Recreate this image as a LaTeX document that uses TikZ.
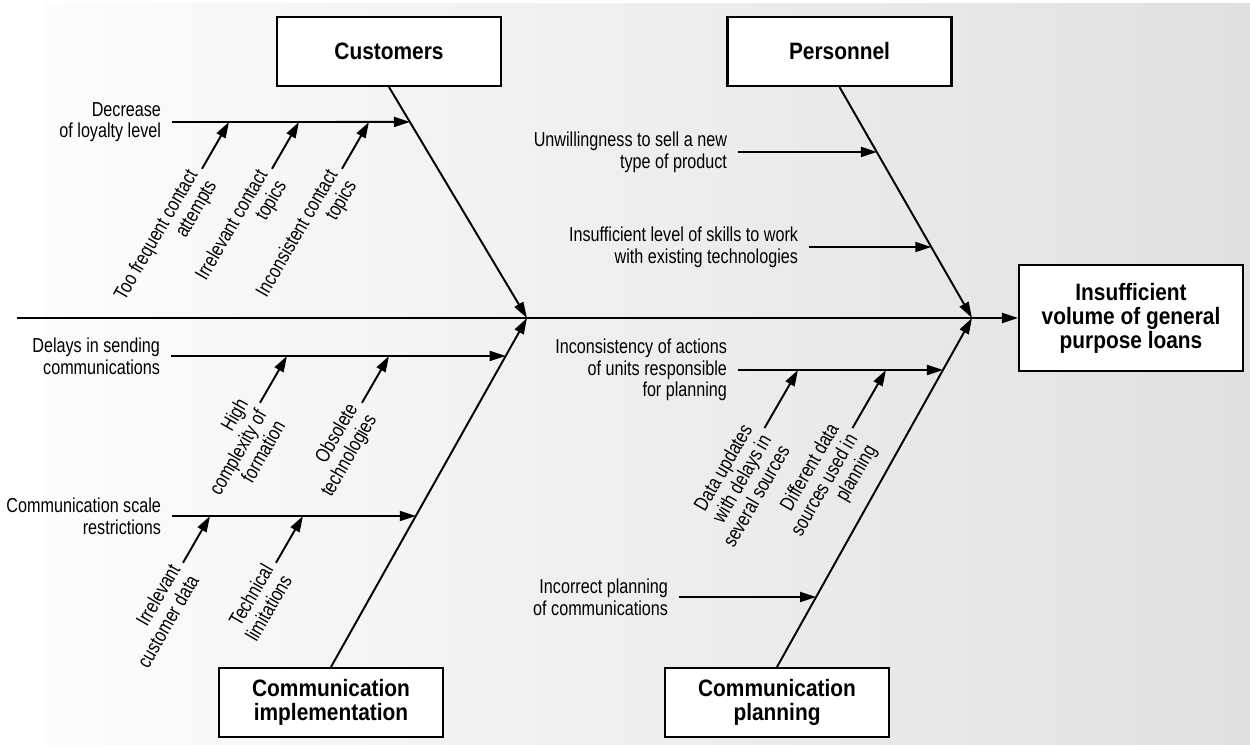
\documentclass[tikz,border=0pt]{standalone}
\usepackage{fontspec}
\setmainfont{Liberation Sans}[FakeStretch=0.8]
\newfontfamily\boxfont{Liberation Sans}[FakeStretch=0.88]
\usetikzlibrary{arrows.meta,calc}

\definecolor{panelL}{RGB}{252,252,252}
\definecolor{panelR}{RGB}{224,224,224}

\begin{document}
\begin{tikzpicture}[
    category/.style={rectangle, draw, line width=1.2pt, fill=white, minimum width=4.48cm, minimum height=1.38cm, align=center, font=\boxfont\bfseries\fontsize{13.5}{13.6}\selectfont},
    effect/.style={category, minimum height=2.12cm},
    cause/.style={align=right, inner sep=0pt, outer xsep=0.22cm, font=\fontsize{11.5}{12.3}\selectfont},
    subcause/.style={cause, outer sep=0pt, rotate=60, anchor=east},
    bone/.style={-{Triangle[length=0.32cm, width=0.2cm]}, line width=1.1pt}
]
\useasboundingbox (0,0) rectangle (25,14.88);

% Background panel
\shade[left color=panelL, right color=panelR] (0.9,0) rectangle (25,14.8);

% Spine and head
\coordinate (tail) at (0.34,8.52);
\coordinate (j1) at (10.54,8.52);
\coordinate (j2) at (19.44,8.52);
\node[effect] (effect) at (22.62,8.52) {Insufficient\\volume of general\\purpose loans};
\draw[bone] (tail) -- (effect);

% Categories
\node[category] (cust) at (7.78,13.85) {Customers};
\node[category] (pers) at (16.79,13.85) {Personnel};
\node[category] (impl) at (6.62,0.83) {Communication\\implementation};
\node[category] (plan) at (15.54,0.83) {Communication\\planning};
\draw[bone] (cust.south) -- (j1);
\draw[bone] (impl.north) -- (j1);
\draw[bone] (pers.south) -- (j2);
\draw[bone] (plan.north) -- (j2);

% Customers
\node[cause, anchor=east] (c_loyal) at (3.44,12.44) {Decrease\\of loyalty level};
\draw[bone] (c_loyal) -- (intersection of cust.south--j1 and c_loyal.west--c_loyal.east);

\coordinate (c_freq_tip) at (4.58,12.44);
\coordinate (c_freq_tail) at ($(c_freq_tip)+(240:1.08)$);
\node[subcause] (c_freq) at ($(c_freq_tail)+(0.02,-0.17)$) {Too frequent contact\\attempts};
\draw[bone] (c_freq_tail) -- (c_freq_tip);

\coordinate (c_irr_tip) at (5.98,12.44);
\coordinate (c_irr_tail) at ($(c_irr_tip)+(240:1.08)$);
\node[subcause] (c_irr) at ($(c_irr_tail)+(0.02,-0.17)$) {Irrelevant contact\\topics};
\draw[bone] (c_irr_tail) -- (c_irr_tip);

\coordinate (c_inc_tip) at (7.38,12.44);
\coordinate (c_inc_tail) at ($(c_inc_tip)+(240:1.08)$);
\node[subcause] (c_inc) at ($(c_inc_tail)+(0.02,-0.17)$) {Inconsistent contact\\topics};
\draw[bone] (c_inc_tail) -- (c_inc_tip);

% Personnel
\node[cause, anchor=east] (p_sell) at (14.76,11.84) {Unwillingness to sell a new\\type of product};
\draw[bone] (p_sell) -- (intersection of pers.south--j2 and p_sell.west--p_sell.east);
\node[cause, anchor=east] (p_skill) at (16.18,9.94) {Insufficient level of skills to work\\with existing technologies};
\draw[bone] (p_skill) -- (intersection of pers.south--j2 and p_skill.west--p_skill.east);

% Communication implementation
\node[cause, anchor=east] (i_delay) at (3.42,7.76) {Delays in sending\\communications};
\draw[bone] (i_delay) -- (intersection of impl.north--j1 and i_delay.west--i_delay.east);

\coordinate (i_cplx_tip) at (5.74,7.76);
\coordinate (i_cplx_tail) at ($(i_cplx_tip)+(240:1.08)$);
\node[subcause] (i_cplx) at ($(i_cplx_tail)+(0.02,-0.17)$) {High\\complexity of\\formation};
\draw[bone] (i_cplx_tail) -- (i_cplx_tip);

\coordinate (i_obs_tip) at (7.78,7.76);
\coordinate (i_obs_tail) at ($(i_obs_tip)+(240:1.08)$);
\node[subcause] (i_obs) at ($(i_obs_tail)+(0.02,-0.17)$) {Obsolete\\technologies};
\draw[bone] (i_obs_tail) -- (i_obs_tip);

\node[cause, anchor=east] (i_scale) at (3.44,4.56) {Communication scale\\restrictions};
\draw[bone] (i_scale) -- (intersection of impl.north--j1 and i_scale.west--i_scale.east);

\coordinate (i_data_tip) at (4.2,4.56);
\coordinate (i_data_tail) at ($(i_data_tip)+(240:1.08)$);
\node[subcause] (i_data) at ($(i_data_tail)+(0.02,-0.17)$) {Irrelevant\\customer data};
\draw[bone] (i_data_tail) -- (i_data_tip);

\coordinate (i_tech_tip) at (6.06,4.56);
\coordinate (i_tech_tail) at ($(i_tech_tip)+(240:1.08)$);
\node[subcause] (i_tech) at ($(i_tech_tail)+(0.02,-0.17)$) {Technical\\limitations};
\draw[bone] (i_tech_tail) -- (i_tech_tip);

% Communication planning
\node[cause, anchor=east] (pl_units) at (14.76,7.48) {Inconsistency of actions\\of units responsible\\for planning};
\draw[bone] (pl_units) -- (intersection of plan.north--j2 and pl_units.west--pl_units.east);

\coordinate (pl_upd_tip) at (15.96,7.48);
\coordinate (pl_upd_tail) at ($(pl_upd_tip)+(240:1.34)$);
\node[subcause] (pl_upd) at ($(pl_upd_tail)+(0.02,-0.17)$) {Data updates\\with delays in\\several sources};
\draw[bone] (pl_upd_tail) -- (pl_upd_tip);

\coordinate (pl_src_tip) at (17.72,7.48);
\coordinate (pl_src_tail) at ($(pl_src_tip)+(240:1.34)$);
\node[subcause] (pl_src) at ($(pl_src_tail)+(0.02,-0.17)$) {Different data\\sources used in\\planning};
\draw[bone] (pl_src_tail) -- (pl_src_tip);

\node[cause, anchor=east] (pl_wrong) at (13.58,2.94) {Incorrect planning\\of communications};
\draw[bone] (pl_wrong) -- (intersection of plan.north--j2 and pl_wrong.west--pl_wrong.east);

\end{tikzpicture}
\end{document}
